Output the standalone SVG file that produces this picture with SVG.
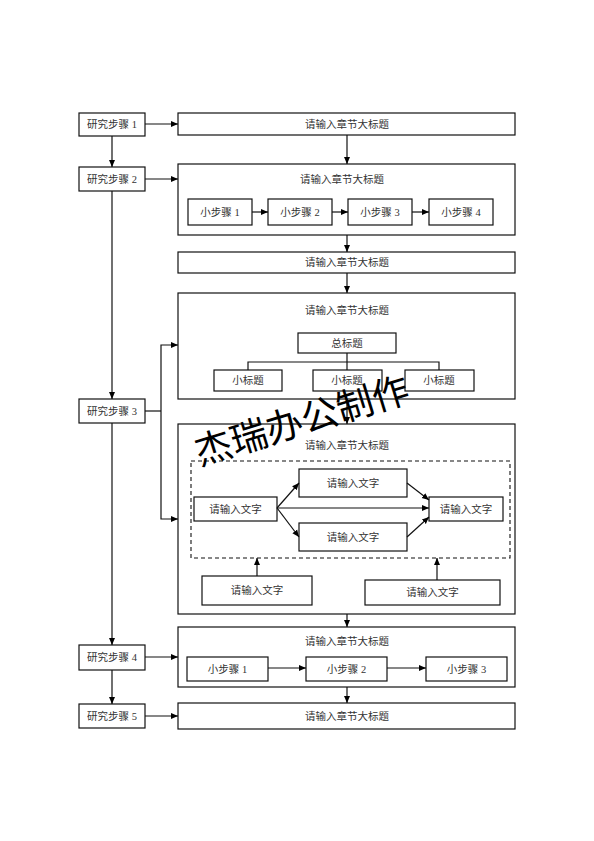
<svg xmlns="http://www.w3.org/2000/svg" width="594" height="841" viewBox="0 0 594 841">
<defs>
<marker id="ah" markerWidth="8" markerHeight="8" refX="7" refY="4" orient="auto" markerUnits="userSpaceOnUse">
<path d="M0,1 L7,4 L0,7 Z" fill="#000"/>
</marker>
<style>
.b{fill:#fff;stroke:#111;stroke-width:1.2}
.d{fill:none;stroke:#111;stroke-width:1.1;stroke-dasharray:4,3}
.t{font-family:"Liberation Serif","Noto Sans CJK SC",serif;font-size:10.5px;fill:#333;text-anchor:middle;dominant-baseline:central}
.c{fill:none;stroke:#111;stroke-width:1.2}
.a{fill:none;stroke:#111;stroke-width:1.2;marker-end:url(#ah)}
.w{font-family:"Noto Sans CJK SC","Noto Sans CJK JP",sans-serif;font-size:37px;fill:#000;text-anchor:middle;dominant-baseline:central}
</style>
</defs>
<rect width="594" height="841" fill="#fff"/>

<g id="step1"><rect class="b" x="79" y="113" width="66" height="23"/><text class="t" x="112" y="124.5">研究步骤 1</text></g>
<g id="step2"><rect class="b" x="79" y="167" width="66" height="24"/><text class="t" x="112" y="179">研究步骤 2</text></g>
<g id="step3"><rect class="b" x="79" y="399" width="66" height="24"/><text class="t" x="112" y="411">研究步骤 3</text></g>
<g id="step4"><rect class="b" x="79" y="645" width="66" height="25"/><text class="t" x="112" y="657.5">研究步骤 4</text></g>
<g id="step5"><rect class="b" x="79" y="704" width="66" height="24"/><text class="t" x="112" y="716">研究步骤 5</text></g>

<g id="box1"><rect class="b" x="178" y="113" width="337" height="22"/><text class="t" x="347" y="124">请输入章节大标题</text></g>

<g id="box2"><rect class="b" x="178" y="164" width="337" height="71"/><text class="t" x="342" y="179">请输入章节大标题</text></g>
<g id="s2a"><rect class="b" x="188" y="199" width="64" height="26"/><text class="t" x="220" y="212">小步骤 1</text></g>
<g id="s2b"><rect class="b" x="268" y="199" width="64" height="26"/><text class="t" x="300" y="212">小步骤 2</text></g>
<g id="s2c"><rect class="b" x="348" y="199" width="64" height="26"/><text class="t" x="380" y="212">小步骤 3</text></g>
<g id="s2d"><rect class="b" x="429" y="199" width="64" height="26"/><text class="t" x="461" y="212">小步骤 4</text></g>

<g id="box3"><rect class="b" x="178" y="252" width="337" height="21"/><text class="t" x="347" y="262.5">请输入章节大标题</text></g>

<g id="box4"><rect class="b" x="178" y="293" width="337" height="106"/><text class="t" x="347" y="310">请输入章节大标题</text></g>
<g id="main-title"><rect class="b" x="298" y="333" width="98" height="20"/><text class="t" x="347" y="343">总标题</text></g>
<g id="sub1"><rect class="b" x="214" y="370" width="68" height="21"/><text class="t" x="248" y="380.5">小标题</text></g>
<g id="sub2"><rect class="b" x="313" y="370" width="69" height="21"/><text class="t" x="347" y="380.5">小标题</text></g>
<g id="sub3"><rect class="b" x="405" y="370" width="69" height="21"/><text class="t" x="439" y="380.5">小标题</text></g>

<g id="box5"><rect class="b" x="178" y="424" width="337" height="190"/><text class="t" x="347" y="445">请输入章节大标题</text></g>
<g id="dash"><rect class="d" x="191" y="461" width="319" height="97"/></g>
<g id="in-left"><rect class="b" x="194" y="497" width="83" height="24"/><text class="t" x="235.5" y="509">请输入文字</text></g>
<g id="in-top"><rect class="b" x="299" y="469" width="108" height="28"/><text class="t" x="353" y="483">请输入文字</text></g>
<g id="in-bot"><rect class="b" x="299" y="523" width="108" height="28"/><text class="t" x="353" y="537">请输入文字</text></g>
<g id="in-right"><rect class="b" x="429" y="497" width="74" height="24"/><text class="t" x="466" y="509">请输入文字</text></g>
<g id="low-left"><rect class="b" x="202" y="576" width="110" height="29"/><text class="t" x="257" y="590.5">请输入文字</text></g>
<g id="low-right"><rect class="b" x="365" y="580" width="135" height="25"/><text class="t" x="432.5" y="592.5">请输入文字</text></g>

<g id="box6"><rect class="b" x="178" y="627" width="337" height="60"/><text class="t" x="347" y="641">请输入章节大标题</text></g>
<g id="s6a"><rect class="b" x="187" y="657" width="81" height="24"/><text class="t" x="227.5" y="669">小步骤 1</text></g>
<g id="s6b"><rect class="b" x="306" y="657" width="81" height="24"/><text class="t" x="346.5" y="669">小步骤 2</text></g>
<g id="s6c"><rect class="b" x="426" y="657" width="81" height="24"/><text class="t" x="466.5" y="669">小步骤 3</text></g>

<g id="box7"><rect class="b" x="178" y="703" width="337" height="26"/><text class="t" x="347" y="716">请输入章节大标题</text></g>

<g id="connectors">
<line class="a" x1="145" y1="124" x2="178" y2="124"/>
<line class="a" x1="112" y1="136" x2="112" y2="167"/>
<line class="a" x1="347" y1="135" x2="347" y2="164"/>
<line class="a" x1="145" y1="179" x2="178" y2="179"/>
<line class="a" x1="252" y1="212" x2="268" y2="212"/>
<line class="a" x1="332" y1="212" x2="348" y2="212"/>
<line class="a" x1="412" y1="212" x2="429" y2="212"/>
<line class="a" x1="347" y1="235" x2="347" y2="252"/>
<line class="a" x1="347" y1="273" x2="347" y2="293"/>
<line class="a" x1="112" y1="191" x2="112" y2="399"/>
<line class="c" x1="347" y1="353" x2="347" y2="370"/>
<polyline class="c" points="248,370 248,362 439,362 439,370"/>
<line class="c" x1="145" y1="411" x2="161" y2="411"/>
<polyline class="a" points="161,411 161,345 178,345"/>
<polyline class="a" points="161,411 161,519 178,519"/>
<line class="a" x1="347" y1="399" x2="347" y2="424"/>
<line class="a" x1="277" y1="508" x2="299" y2="483"/>
<line class="a" x1="277" y1="508" x2="299" y2="537"/>
<line class="a" x1="277" y1="508" x2="429" y2="508"/>
<line class="a" x1="407" y1="483" x2="429" y2="500"/>
<line class="a" x1="407" y1="537" x2="429" y2="517"/>
<line class="a" x1="257" y1="576" x2="257" y2="558"/>
<line class="a" x1="437" y1="580" x2="437" y2="558"/>
<line class="a" x1="347" y1="614" x2="347" y2="627"/>
<line class="a" x1="112" y1="423" x2="112" y2="645"/>
<line class="a" x1="145" y1="657" x2="178" y2="657"/>
<line class="a" x1="268" y1="668" x2="306" y2="668"/>
<line class="a" x1="387" y1="668" x2="426" y2="668"/>
<line class="a" x1="347" y1="687" x2="347" y2="703"/>
<line class="a" x1="112" y1="670" x2="112" y2="704"/>
<line class="a" x1="145" y1="716" x2="178" y2="716"/>
</g>

<g id="watermark"><text class="w" transform="translate(301,418) rotate(-17)">杰瑞办公制作</text></g>
</svg>
